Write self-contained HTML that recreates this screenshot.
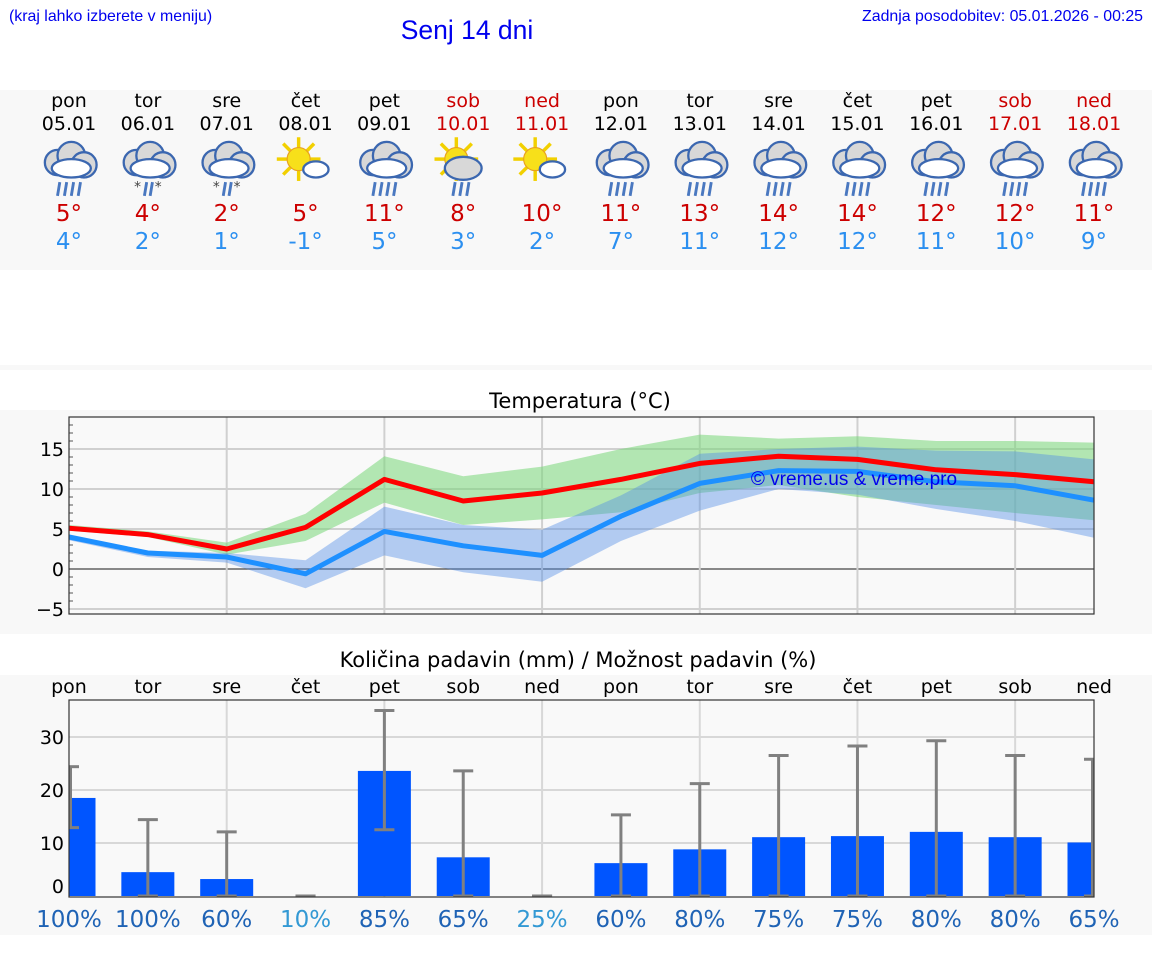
<!DOCTYPE html>
<html><head><meta charset="utf-8"><style>
body{margin:0;background:#fff;font-family:"DejaVu Sans","Liberation Sans",sans-serif}
svg{display:block}
</style></head><body>
<svg id="s" width="1152" height="975" xmlns="http://www.w3.org/2000/svg">
<rect x="0" y="90" width="1152" height="180" fill="#f8f8f8"/>
<rect x="0" y="365" width="1152" height="5" fill="#f8f8f8"/>
<rect x="0" y="410" width="1152" height="224" fill="#f8f8f8"/>
<rect x="0" y="675" width="1152" height="260" fill="#f8f8f8"/>
<text x="9" y="21" font-family="Liberation Sans,sans-serif" font-size="15.9" fill="#0000ee">(kraj lahko izberete v meniju)</text>
<text x="467" y="39" text-anchor="middle" font-family="Liberation Sans,sans-serif" font-size="26.5" fill="#0000ee">Senj 14 dni</text>
<text x="1143" y="21" text-anchor="end" font-family="Liberation Sans,sans-serif" font-size="15.9" fill="#0000ee">Zadnja posodobitev: 05.01.2026 - 00:25</text>
<text x="580" y="408" text-anchor="middle" font-size="21" fill="#000">Temperatura (°C)</text>
<text x="578" y="667" text-anchor="middle" font-size="21" fill="#000">Količina padavin (mm) / Možnost padavin (%)</text>
<g id="hdr"></g><g id="tc"></g><g id="pc"></g>
</svg>
<script>
const days=["pon","tor","sre","čet","pet","sob","ned","pon","tor","sre","čet","pet","sob","ned"];
const dates=["05.01","06.01","07.01","08.01","09.01","10.01","11.01","12.01","13.01","14.01","15.01","16.01","17.01","18.01"];
const icons=["rain","snowrain","snowrain","sun","rain","sunrain","sun","rain","rain","rain","rain","rain","rain","rain"];
const hiLabels=[5,4,2,5,11,8,10,11,13,14,14,12,12,11];
const loLabels=[4,2,1,-1,5,3,2,7,11,12,12,11,10,9];
const tMax=[5.1,4.3,2.5,5.2,11.2,8.5,9.5,11.2,13.2,14.1,13.7,12.4,11.8,10.9];
const tMin=[4.0,2.0,1.5,-0.6,4.7,2.9,1.7,6.6,10.7,12.3,12.2,10.9,10.4,8.6];
const tMaxHi=[5.5,4.7,3.3,6.9,14.1,11.6,12.8,15.0,16.8,16.3,16.6,16.0,16.0,15.8];
const tMaxLo=[4.8,4.0,1.8,3.5,8.3,5.5,6.2,7.1,9.5,10.5,9.0,8.0,7.0,6.1];
const tMinHi=[4.2,2.3,2.0,1.1,7.8,5.5,4.9,9.2,14.4,15.0,15.3,14.8,14.7,13.7];
const tMinLo=[3.6,1.5,0.8,-2.4,1.7,-0.4,-1.6,3.5,7.3,10.0,9.3,7.5,6.0,3.9];
const tTicks=[15,10,5,0,-5];
const precip=[18.5,4.5,3.2,0,23.6,7.3,0,6.2,8.8,11.1,11.3,12.1,11.1,10.1];
const pLo=[12.9,0,0,0,12.5,0,0,0,0,0,0,0,0,0];
const pHi=[24.4,14.4,12.1,0,35.0,23.6,0,15.3,21.2,26.5,28.3,29.3,26.5,25.8];
const prob=[100,100,60,10,85,65,25,60,80,75,75,80,80,65];
const pTicks=[30,20,10,0];
const NS="http://www.w3.org/2000/svg";
function mk(p,t,a,txt){const e=document.createElementNS(NS,t);for(const k in a)e.setAttribute(k,a[k]);if(txt!==undefined)e.textContent=txt;p.appendChild(e);return e;}
const X0=69,X1=1094,step=(X1-X0)/13;
const xd=i=>X0+i*step;
const ty=v=>569-v*8;
const py=v=>896-v*5.3;
const wk=i=>days[i]==="sob"||days[i]==="ned";
const hdr=document.getElementById('hdr');
days.forEach((d,i)=>{
 const cx=xd(i);
 const c=wk(i)?"#cc0000":"#000";
 let e=mk(hdr,'text',{x:cx,y:107,'text-anchor':'middle','font-size':19,fill:c},d);
 
 e=mk(hdr,'text',{x:cx,y:130,'text-anchor':'middle','font-size':19,fill:c},dates[i]);
 
 const g=mk(hdr,'g',{transform:`translate(${cx},166) scale(1.15)`});
 
 const ic=icons[i];
 if(ic==="sun"||ic==="sunrain"){
  for(let k=0;k<8;k++){const a=k*Math.PI/4;mk(g,'line',{x1:-6+Math.cos(a)*10,y1:-6+Math.sin(a)*10,x2:-6+Math.cos(a)*19,y2:-6+Math.sin(a)*19,stroke:'#f2d000','stroke-width':3});}
  mk(g,'circle',{cx:-6,cy:-6,r:10,fill:'#f7e01a',stroke:'#e8a020','stroke-width':1});
  if(ic==="sun"){mk(g,'ellipse',{cx:9,cy:3,rx:11,ry:7,fill:'#fff',stroke:'#3b67b0','stroke-width':2});}
  else{mk(g,'ellipse',{cx:0,cy:2,rx:16,ry:10,fill:'#d8d8d8',stroke:'#3b67b0','stroke-width':2});
   for(let k=0;k<3;k++)mk(g,'line',{x1:-7+k*6,y1:14,x2:-9+k*6,y2:26,stroke:'#4a78c0','stroke-width':2.5});}
 } else {
  mk(g,'circle',{cx:-10,cy:-3,r:11,fill:'#d8d8d8',stroke:'#3b67b0','stroke-width':2});
  mk(g,'circle',{cx:2,cy:-9,r:12,fill:'#d8d8d8',stroke:'#3b67b0','stroke-width':2});
  mk(g,'circle',{cx:13,cy:-1,r:11,fill:'#d8d8d8',stroke:'#3b67b0','stroke-width':2});
  mk(g,'ellipse',{cx:2,cy:2,rx:17,ry:8,fill:'#fff',stroke:'#3b67b0','stroke-width':2});
  if(ic==="rain"){for(let k=0;k<4;k++)mk(g,'line',{x1:-8+k*6,y1:14,x2:-10+k*6,y2:26,stroke:'#4a78c0','stroke-width':2.5});}
  else{for(let k=0;k<2;k++)mk(g,'line',{x1:-1+k*5,y1:14,x2:-3+k*5,y2:26,stroke:'#4a78c0','stroke-width':2.5});
   mk(g,'text',{x:-9,y:22,'font-size':12,fill:'#444','text-anchor':'middle'},'*');mk(g,'text',{x:9,y:22,'font-size':12,fill:'#444','text-anchor':'middle'},'*');}
 }
 e=mk(hdr,'text',{x:cx,y:221,'text-anchor':'middle','font-size':23,fill:'#cc0000'},hiLabels[i]+'°');
 
 e=mk(hdr,'text',{x:cx,y:249,'text-anchor':'middle','font-size':23,fill:'#2b8ff0'},loLabels[i]+'°');
 
});
const tc=document.getElementById('tc');
let r=mk(tc,'rect',{x:X0,y:417,width:X1-X0,height:197,fill:'#f9f9f9'});

for(let v=-5;v<=18;v++){mk(tc,'line',{x1:X0,x2:X0+(v%5===0?6:4),y1:ty(v),y2:ty(v),stroke:'#555','stroke-width':1});}
tTicks.forEach(v=>{mk(tc,'line',{x1:X0,x2:X1,y1:ty(v),y2:ty(v),stroke:v===0?'#444':'#d0d0d0','stroke-width':v===0?1.2:2});
 const t=mk(tc,'text',{x:64,y:ty(v)+7,'text-anchor':'end','font-size':19,fill:'#000'},v<0?'−'+(-v):v);
 });
for(let i=2;i<13;i+=2)mk(tc,'line',{x1:xd(i),x2:xd(i),y1:417,y2:614,stroke:'#d0d0d0','stroke-width':2});
function band(hi,lo,fill,name){const pts=hi.map((v,i)=>xd(i)+','+ty(v)).concat(lo.map((v,i)=>xd(i)+','+ty(v)).reverse());
 const p=mk(tc,'polygon',{points:pts.join(' '),fill:fill});}
band(tMaxHi,tMaxLo,'rgba(120,215,120,0.55)','max-temp-range');
band(tMinHi,tMinLo,'rgba(80,140,230,0.42)','min-temp-range');
function line(arr,col,name){const p=mk(tc,'polyline',{points:arr.map((v,i)=>xd(i)+','+ty(v)).join(' '),fill:'none',stroke:col,'stroke-width':5,'stroke-linejoin':'round'});
 }
line(tMin,'#1e90ff','min-temp-line');
line(tMax,'#ff0000','max-temp-line');
r=mk(tc,'text',{x:854,y:485,'text-anchor':'middle','font-family':'Liberation Sans,sans-serif','font-size':19,fill:'#0000ee'},'© vreme.us & vreme.pro');

mk(tc,'rect',{x:X0,y:417,width:X1-X0,height:197,fill:'none',stroke:'#333','stroke-width':1.2});
const pc=document.getElementById('pc');
r=mk(pc,'rect',{x:X0,y:700,width:X1-X0,height:197,fill:'#f9f9f9'});

pTicks.forEach(v=>{if(v>0)mk(pc,'line',{x1:X0,x2:X1,y1:py(v),y2:py(v),stroke:'#d8d8d8','stroke-width':2});
 const t=mk(pc,'text',{x:64,y:py(v)+(v===0?-3:7),'text-anchor':'end','font-size':19,fill:'#000'},v);
 });
for(let i=2;i<13;i+=2)mk(pc,'line',{x1:xd(i),x2:xd(i),y1:700,y2:897,stroke:'#d8d8d8','stroke-width':2});
days.forEach((d,i)=>{const t=mk(pc,'text',{x:xd(i),y:693,'text-anchor':'middle','font-size':19,fill:'#000'},d);
 });
precip.forEach((v,i)=>{
 let x=xd(i)-26.5,w=53;if(x<X0){w-=X0-x;x=X0;}if(x+w>X1)w=X1-x;
 if(v>0){const b=mk(pc,'rect',{x:x,y:py(v),width:w,height:py(0)-py(v),fill:'#0055ff'});
 }
 const cx=Math.max(X0+1.5,Math.min(X1-1.5,xd(i)));
 const g=mk(pc,'g',{stroke:'#808080','stroke-width':3});
 
 mk(g,'line',{x1:cx,x2:cx,y1:py(pHi[i]),y2:py(pLo[i])});
 mk(g,'line',{x1:Math.max(X0,xd(i)-10),x2:Math.min(X1,xd(i)+10),y1:py(pHi[i]),y2:py(pHi[i])});
 mk(g,'line',{x1:Math.max(X0,xd(i)-10),x2:Math.min(X1,xd(i)+10),y1:py(pLo[i]),y2:py(pLo[i])});
 const t=mk(pc,'text',{x:xd(i),y:927,'text-anchor':'middle','font-size':23,fill:prob[i]<30?'#3399d4':'#1f63b5'},prob[i]+'%');
 
});
mk(pc,'rect',{x:X0,y:700,width:X1-X0,height:197,fill:'none',stroke:'#333','stroke-width':1.2});
</script>
</body></html>
